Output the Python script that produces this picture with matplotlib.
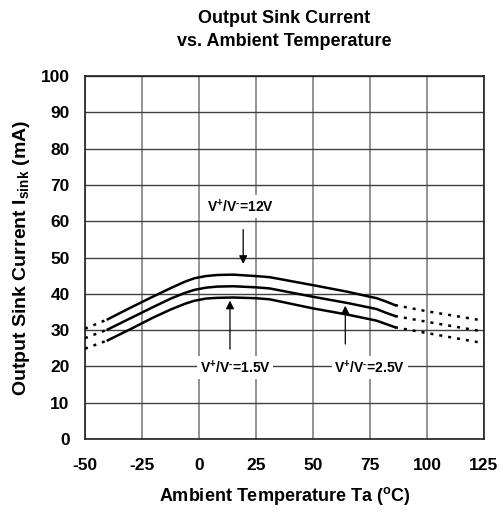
import numpy as np
import matplotlib
matplotlib.use("Agg")
import matplotlib.pyplot as plt

plt.rcParams['font.family'] = ['Liberation Sans', 'DejaVu Sans']
plt.rcParams['font.weight'] = 'bold'
plt.rcParams['axes.unicode_minus'] = False
plt.rcParams['mathtext.fontset'] = 'custom'
plt.rcParams['mathtext.rm'] = 'Liberation Sans:bold'
plt.rcParams['mathtext.it'] = 'Liberation Sans:bold'
plt.rcParams['mathtext.bf'] = 'Liberation Sans:bold'

# solid part of the curves
temp = [-40, -30, -20, -12, -6, -2, 3, 8, 15, 25, 31, 50, 65, 75, 78, 82, 86]
i_12v = [33.0, 36.2, 39.3, 41.7, 43.4, 44.3, 44.9, 45.2, 45.3, 44.9, 44.6, 42.4, 40.6, 39.2, 38.8, 37.9, 36.9]
i_25v = [30.2, 33.3, 36.4, 38.8, 40.3, 41.1, 41.7, 42.0, 42.1, 41.8, 41.5, 39.2, 37.5, 36.2, 35.8, 34.8, 33.9]
i_15v = [27.2, 30.3, 33.5, 35.8, 37.3, 38.1, 38.7, 38.9, 39.0, 38.8, 38.5, 36.0, 34.3, 33.0, 32.6, 31.7, 30.8]

# dotted extrapolation
temp_lo = [-50, -40]
i_12v_lo = [30.4, 33.0]
i_25v_lo = [27.8, 30.2]
i_15v_lo = [24.9, 27.2]
temp_hi = [86, 100, 125]
i_12v_hi = [36.9, 35.2, 32.6]
i_25v_hi = [33.9, 32.3, 29.6]
i_15v_hi = [30.8, 29.2, 26.4]

xticks = [-50, -25, 0, 25, 50, 75, 100, 125]
yticks = list(range(0, 101, 10))

fig = plt.figure(figsize=(5.03, 5.18), dpi=100)
ax = fig.add_axes([0.169, 0.1525, 0.793, 0.7005])

for s in [i_12v, i_25v, i_15v]:
    ax.plot(temp, s, color='black', lw=1.8, zorder=3, solid_joinstyle='round')
for s in [i_12v_lo, i_25v_lo, i_15v_lo]:
    ax.plot(temp_lo, s, color='black', lw=1.8, ls=(0, (1.2, 2.4)), zorder=3)
for s in [i_12v_hi, i_25v_hi, i_15v_hi]:
    ax.plot(temp_hi, s, color='black', lw=1.8, ls=(0, (1.2, 2.4)), zorder=3)

ax.set_xlim(-50, 125)
ax.set_ylim(0, 100)
ax.set_xticks(xticks)
ax.set_yticks(yticks)
ax.xaxis.grid(True, color='#808080', lw=1.2)
ax.yaxis.grid(True, color='#404040', lw=1.0)
ax.set_axisbelow(True)
ax.tick_params(axis='y', length=0, labelsize=12.5, pad=11)
ax.tick_params(axis='x', length=0, labelsize=12.5, pad=14)
for lab in ax.get_xticklabels() + ax.get_yticklabels():
    lab.set_fontweight('bold')
for sp in ax.spines.values():
    sp.set_color('#202020')
    sp.set_linewidth(1.2)

ax.set_title('Output Sink Current\nvs. Ambient Temperature', fontsize=13, fontweight='bold',
             pad=22, linespacing=1.45)
ax.set_xlabel(r'Ambient Temperature Ta ($\mathregular{^o}$C)', fontsize=13, fontweight='bold', labelpad=8)
ax.set_ylabel(r'Output Sink Current I$\mathregular{_{sink}}$ (mA)', fontsize=14, fontweight='bold', labelpad=6)

box = dict(facecolor='white', edgecolor='none', pad=2)
lab_12 = r'$\mathregular{V^{+}/V^{\text{-}}}$=12V'
lab_15 = r'$\mathregular{V^{+}/V^{\text{-}}}$=1.5V'
lab_25 = r'$\mathregular{V^{+}/V^{\text{-}}}$=2.5V'

ax.annotate('', xy=(19.4, 47.5), xytext=(19.4, 58.5),
            arrowprops=dict(arrowstyle='-|>', color='black', lw=0.9, mutation_scale=12))
ax.text(18.4, 64, lab_12, ha='center', va='center', fontsize=10, fontweight='bold', bbox=box, zorder=4)

ax.annotate('', xy=(13.6, 38.9), xytext=(13.6, 24),
            arrowprops=dict(arrowstyle='-|>', color='black', lw=0.9, mutation_scale=12))
ax.text(15.8, 19.8, lab_15, ha='center', va='center', fontsize=10, fontweight='bold', bbox=box, zorder=4)

ax.annotate('', xy=(64.2, 37.5), xytext=(64.2, 25.4),
            arrowprops=dict(arrowstyle='-|>', color='black', lw=0.9, mutation_scale=12))
ax.text(75, 19.8, lab_25, ha='center', va='center', fontsize=10, fontweight='bold', bbox=box, zorder=4)

fig.savefig('out.png', dpi=100)
